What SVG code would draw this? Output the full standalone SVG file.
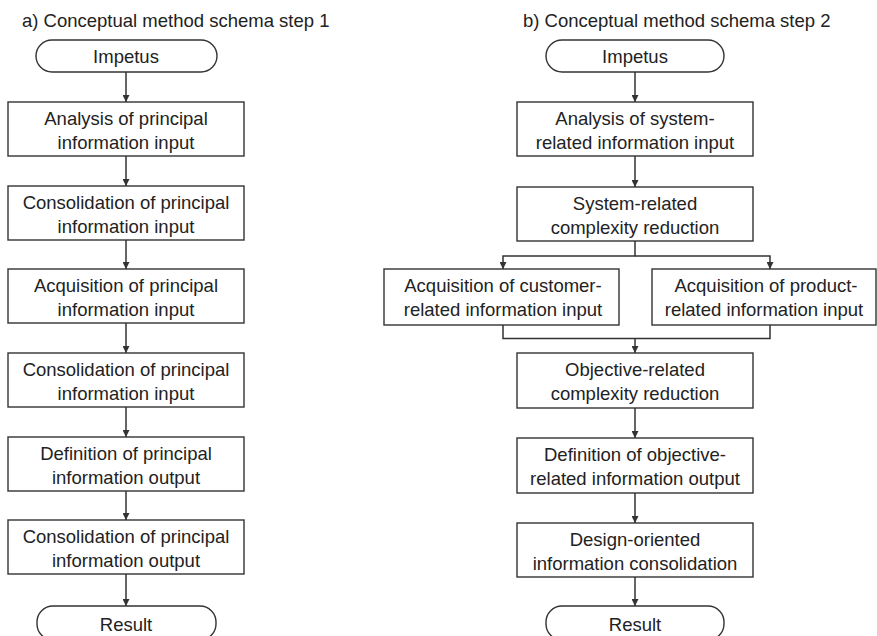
<svg xmlns="http://www.w3.org/2000/svg" width="877" height="636" viewBox="0 0 877 636">
<defs>
<style>
text{font-family:"Liberation Sans",Arial,sans-serif;font-size:18.5px;fill:#222;text-anchor:middle}
.t{text-anchor:start}
.b{fill:#fff;stroke:#333;stroke-width:1.4}
.c{fill:none;stroke:#333;stroke-width:1.5}
</style>
<marker id="ah" viewBox="0 0 10 10" refX="10" refY="5" markerWidth="7" markerHeight="7" markerUnits="userSpaceOnUse" orient="auto">
<path d="M0,0 L10,5 L0,10 z" fill="#333"/>
</marker>
</defs>
<rect width="877" height="636" fill="#fff"/>
<text class="t" x="22" y="27">a) Conceptual method schema step 1</text>
<text class="t" x="523" y="27">b) Conceptual method schema step 2</text>

<g id="connectors">
<line class="c" x1="126" y1="72" x2="126" y2="102" marker-end="url(#ah)"/>
<line class="c" x1="126" y1="156" x2="126" y2="186" marker-end="url(#ah)"/>
<line class="c" x1="126" y1="240" x2="126" y2="269" marker-end="url(#ah)"/>
<line class="c" x1="126" y1="323" x2="126" y2="353" marker-end="url(#ah)"/>
<line class="c" x1="126" y1="407" x2="126" y2="437" marker-end="url(#ah)"/>
<line class="c" x1="126" y1="491" x2="126" y2="520" marker-end="url(#ah)"/>
<line class="c" x1="126" y1="574" x2="126" y2="606" marker-end="url(#ah)"/>

<line class="c" x1="635" y1="72" x2="635" y2="102" marker-end="url(#ah)"/>
<line class="c" x1="635" y1="156" x2="635" y2="187" marker-end="url(#ah)"/>
<polyline class="c" points="635,241 635,256 503,256 503,269" marker-end="url(#ah)"/>
<polyline class="c" points="635,256 770,256 770,269" marker-end="url(#ah)"/>
<polyline class="c" points="503,325 503,338.5 770,338.5 770,325"/>
<line class="c" x1="635" y1="338.5" x2="635" y2="353" marker-end="url(#ah)"/>
<line class="c" x1="635" y1="408" x2="635" y2="438" marker-end="url(#ah)"/>
<line class="c" x1="635" y1="493" x2="635" y2="523" marker-end="url(#ah)"/>
<line class="c" x1="635" y1="577" x2="635" y2="606" marker-end="url(#ah)"/>
</g>

<g id="a-impetus"><rect class="b" x="36" y="40" width="181" height="32" rx="16"/><text x="126" y="63">Impetus</text></g>
<g id="a-n1"><rect class="b" x="8" y="102" width="236" height="54"/><text x="126" y="125">Analysis of principal</text><text x="126" y="149">information input</text></g>
<g id="a-n2"><rect class="b" x="8" y="186" width="236" height="54"/><text x="126" y="209">Consolidation of principal</text><text x="126" y="233">information input</text></g>
<g id="a-n3"><rect class="b" x="8" y="269" width="236" height="54"/><text x="126" y="292">Acquisition of principal</text><text x="126" y="316">information input</text></g>
<g id="a-n4"><rect class="b" x="8" y="353" width="236" height="54"/><text x="126" y="376">Consolidation of principal</text><text x="126" y="400">information input</text></g>
<g id="a-n5"><rect class="b" x="8" y="437" width="236" height="54"/><text x="126" y="460">Definition of principal</text><text x="126" y="484">information output</text></g>
<g id="a-n6"><rect class="b" x="8" y="520" width="236" height="54"/><text x="126" y="543">Consolidation of principal</text><text x="126" y="567">information output</text></g>
<g id="a-result"><rect class="b" x="37" y="606" width="179" height="34" rx="16"/><text x="126" y="631">Result</text></g>

<g id="b-impetus"><rect class="b" x="546" y="40" width="178" height="32" rx="16"/><text x="635" y="63">Impetus</text></g>
<g id="b-n1"><rect class="b" x="517" y="102" width="236" height="54"/><text x="635" y="125">Analysis of system-</text><text x="635" y="149">related information input</text></g>
<g id="b-n2"><rect class="b" x="517" y="187" width="236" height="54"/><text x="635" y="210">System-related</text><text x="635" y="234">complexity reduction</text></g>
<g id="b-n3a"><rect class="b" x="384" y="269" width="235" height="56"/><text x="503" y="292">Acquisition of customer-</text><text x="503" y="316">related information input</text></g>
<g id="b-n3b"><rect class="b" x="652" y="269" width="224" height="56"/><text x="766" y="292">Acquisition of product-</text><text x="764" y="316">related information input</text></g>
<g id="b-n4"><rect class="b" x="517" y="353" width="236" height="55"/><text x="635" y="376">Objective-related</text><text x="635" y="400">complexity reduction</text></g>
<g id="b-n5"><rect class="b" x="517" y="438" width="236" height="55"/><text x="635" y="461">Definition of objective-</text><text x="635" y="485">related information output</text></g>
<g id="b-n6"><rect class="b" x="517" y="523" width="236" height="54"/><text x="635" y="546">Design-oriented</text><text x="635" y="570">information consolidation</text></g>
<g id="b-result"><rect class="b" x="546" y="606" width="178" height="34" rx="16"/><text x="635" y="631">Result</text></g>
</svg>
